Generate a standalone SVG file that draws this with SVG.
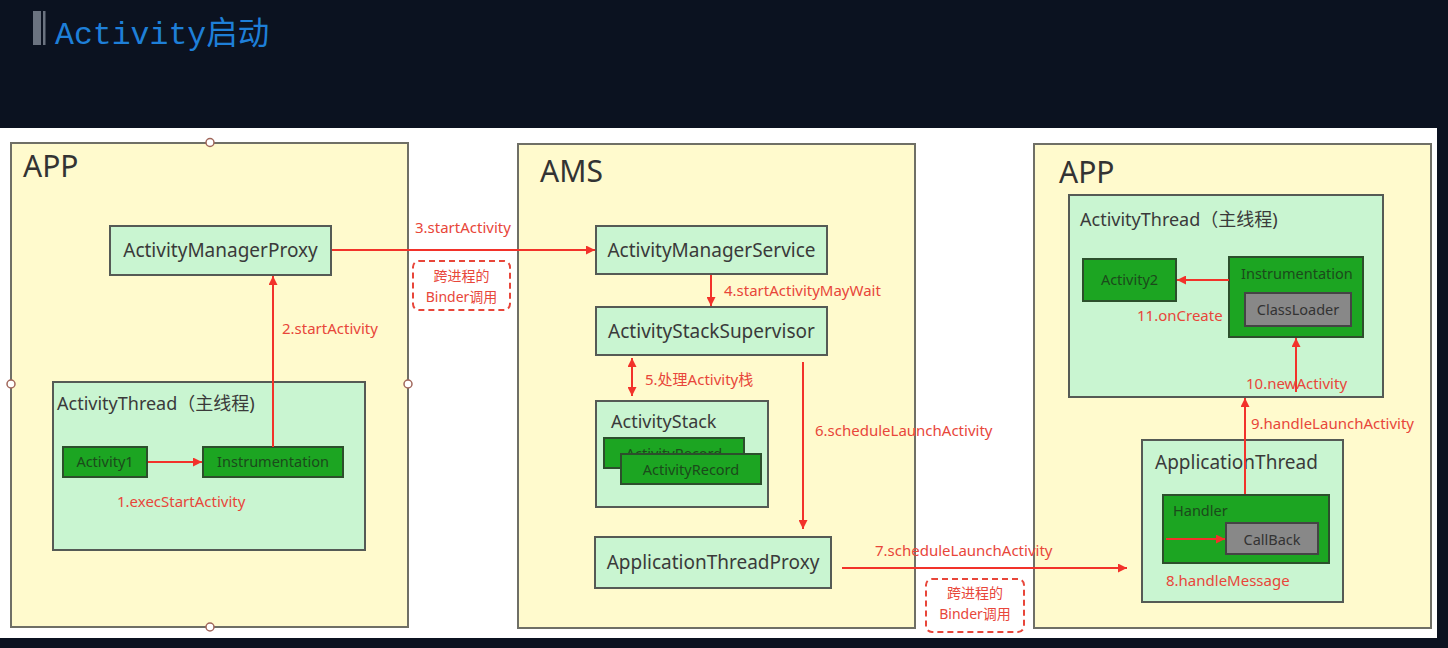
<svg xmlns="http://www.w3.org/2000/svg" width="1448" height="648" viewBox="0 0 1448 648">
<defs>
<style>
.t{font-family:"Noto Sans","Noto Sans CJK SC",sans-serif;}
.proc{fill:#fffacd;stroke:#6f6f66;stroke-width:2;}
.lg{fill:#c9f5d1;stroke:#555a55;stroke-width:2;}
.dg{fill:#1ca522;stroke:#2c4f2c;stroke-width:2;}
.gr{fill:#888888;stroke:#444;stroke-width:2;}
.big{font-size:30px;fill:#333;}
.lbl{font-size:19px;fill:#3a3a3a;}
.lbl18{font-size:18px;fill:#3a3a3a;}
.in{font-size:14.5px;fill:#1b4a1b;}
.ing{font-size:14.5px;fill:#333;}
.red{font-size:15px;fill:#e8463a;}
.rs{font-size:14px;fill:#e8463a;}
.c{text-anchor:middle;}
.ln{stroke:#f2322a;stroke-width:2;fill:none;}
.dash{fill:none;stroke:#e8463a;stroke-width:2;stroke-dasharray:6 4;}
.hd{fill:#fff;stroke:#a0665a;stroke-width:1.5;}
</style>
<marker id="ah" viewBox="0 0 10 10" refX="10" refY="5" markerWidth="10" markerHeight="9" markerUnits="userSpaceOnUse" orient="auto">
<path d="M0,0 L10,5 L0,10 z" fill="#f2322a"/>
</marker>
<marker id="as" viewBox="0 0 10 10" refX="0" refY="5" markerWidth="10" markerHeight="9" markerUnits="userSpaceOnUse" orient="auto">
<path d="M10,0 L0,5 L10,10 z" fill="#f2322a"/>
</marker>
</defs>
<rect x="0" y="0" width="1448" height="648" fill="#0b1220"/>
<rect x="0" y="128" width="1437" height="510" fill="#ffffff"/>
<g id="title">
<rect x="33" y="11" width="8" height="34" fill="#6b7380"/>
<rect x="43" y="11" width="2.5" height="34" fill="#6b7380"/>
<text x="55" y="44" style="font-family:'Liberation Mono','Noto Sans CJK SC',monospace;font-size:31.5px;fill:#1e7fd8;">Activity启动</text>
</g>
<g id="app-left">
<rect class="proc" x="11" y="143" width="397" height="484"/>
<text class="t big" x="23" y="177">APP</text>
</g>
<g id="ams">
<rect class="proc" x="518" y="144" width="397" height="484"/>
<text class="t big" x="540" y="182">AMS</text>
</g>
<g id="app-right">
<rect class="proc" x="1034" y="144" width="397" height="484"/>
<text class="t big" x="1059" y="183">APP</text>
</g>
<g id="activity-manager-proxy">
<rect class="lg" x="110" y="226" width="221" height="49"/>
<text class="t lbl c" x="220.5" y="257">ActivityManagerProxy</text>
</g>
<g id="activity-thread-left">
<rect class="lg" x="53" y="382" width="312" height="168"/>
<text class="t lbl18" x="57" y="410">ActivityThread（主线程)</text>
</g>
<g id="activity1">
<rect class="dg" x="63" y="447" width="84" height="30"/>
<text class="t in c" x="105" y="467">Activity1</text>
</g>
<g id="instrumentation-left">
<rect class="dg" x="203" y="447" width="140" height="30"/>
<text class="t in c" x="273" y="467">Instrumentation</text>
</g>
<g id="binder-note-1">
<rect class="dash" x="413" y="261" width="97" height="49" rx="6"/>
<text class="t rs c" x="461.5" y="281">跨进程的</text>
<text class="t rs c" x="461.5" y="302">Binder调用</text>
</g>
<g id="activity-manager-service">
<rect class="lg" x="596" y="226" width="231" height="48"/>
<text class="t lbl c" x="711.5" y="257">ActivityManagerService</text>
</g>
<g id="activity-stack-supervisor">
<rect class="lg" x="596" y="307" width="231" height="48"/>
<text class="t lbl c" x="711.5" y="338">ActivityStackSupervisor</text>
</g>
<g id="activity-stack">
<rect class="lg" x="596" y="401" width="172" height="106"/>
<text class="t lbl18" x="611" y="428">ActivityStack</text>
</g>
<g id="activity-record-1">
<rect class="dg" x="604" y="438" width="140" height="30"/>
<text class="t in c" x="674" y="459">ActivityRecord</text>
</g>
<g id="activity-record-2">
<rect class="dg" x="621" y="454" width="140" height="30"/>
<text class="t in c" x="691" y="475">ActivityRecord</text>
</g>
<g id="application-thread-proxy">
<rect class="lg" x="595" y="537" width="236" height="51"/>
<text class="t lbl c" x="713" y="569">ApplicationThreadProxy</text>
</g>
<g id="binder-note-2">
<rect class="dash" x="926" y="579" width="98" height="53" rx="6"/>
<text class="t rs c" x="975" y="598">跨进程的</text>
<text class="t rs c" x="975" y="619">Binder调用</text>
</g>
<g id="activity-thread-right">
<rect class="lg" x="1069" y="195" width="314" height="202"/>
<text class="t lbl18" x="1080" y="226">ActivityThread（主线程)</text>
</g>
<g id="activity2">
<rect class="dg" x="1083" y="259" width="93" height="42"/>
<text class="t in c" x="1129.5" y="285">Activity2</text>
</g>
<g id="instrumentation-right">
<rect class="dg" x="1229" y="257" width="134" height="80"/>
<text class="t in" x="1241" y="279">Instrumentation</text>
</g>
<g id="classloader">
<rect class="gr" x="1245" y="293" width="106" height="33"/>
<text class="t ing c" x="1298" y="315">ClassLoader</text>
</g>
<g id="application-thread">
<rect class="lg" x="1142" y="440" width="201" height="162"/>
<text class="t lbl" x="1155" y="469">ApplicationThread</text>
</g>
<g id="handler">
<rect class="dg" x="1163" y="495" width="166" height="68"/>
<text class="t in" x="1173" y="516">Handler</text>
</g>
<g id="callback">
<rect class="gr" x="1226" y="523" width="92" height="31"/>
<text class="t ing c" x="1272" y="545">CallBack</text>
</g>
<g id="connectors">
<line class="ln" x1="148" y1="462" x2="202" y2="462" marker-end="url(#ah)"/>
<text class="t red" x="117" y="507">1.execStartActivity</text>
<line class="ln" x1="273" y1="447" x2="273" y2="276" marker-end="url(#ah)"/>
<text class="t red" x="282" y="334">2.startActivity</text>
<line class="ln" x1="332" y1="250" x2="595" y2="250" marker-end="url(#ah)"/>
<text class="t red" x="415" y="233">3.startActivity</text>
<line class="ln" x1="711" y1="275" x2="711" y2="306" marker-end="url(#ah)"/>
<text class="t red" x="724" y="296">4.startActivityMayWait</text>
<line class="ln" x1="632" y1="358" x2="632" y2="396" marker-start="url(#as)" marker-end="url(#ah)"/>
<text class="t red" x="645" y="385">5.处理Activity栈</text>
<line class="ln" x1="803" y1="362" x2="803" y2="529" marker-end="url(#ah)"/>
<text class="t red" x="815" y="436">6.scheduleLaunchActivity</text>
<line class="ln" x1="842" y1="568" x2="1127" y2="568" marker-end="url(#ah)"/>
<text class="t red" x="875" y="556">7.scheduleLaunchActivity</text>
<line class="ln" x1="1166" y1="539" x2="1225" y2="539" marker-end="url(#ah)"/>
<text class="t red" x="1166" y="586">8.handleMessage</text>
<line class="ln" x1="1245" y1="494" x2="1245" y2="398" marker-end="url(#ah)"/>
<text class="t red" x="1251" y="429">9.handleLaunchActivity</text>
<line class="ln" x1="1296" y1="392" x2="1296" y2="338" marker-end="url(#ah)"/>
<text class="t red" x="1246" y="389">10.newActivity</text>
<line class="ln" x1="1229" y1="280" x2="1177" y2="280" marker-end="url(#ah)"/>
<text class="t red" x="1137" y="321">11.onCreate</text>
</g>
<g id="handles">
<circle class="hd" cx="210" cy="142.5" r="4"/>
<circle class="hd" cx="210" cy="627" r="4"/>
<circle class="hd" cx="11" cy="384" r="4"/>
<circle class="hd" cx="408" cy="384" r="4"/>
</g>
</svg>
